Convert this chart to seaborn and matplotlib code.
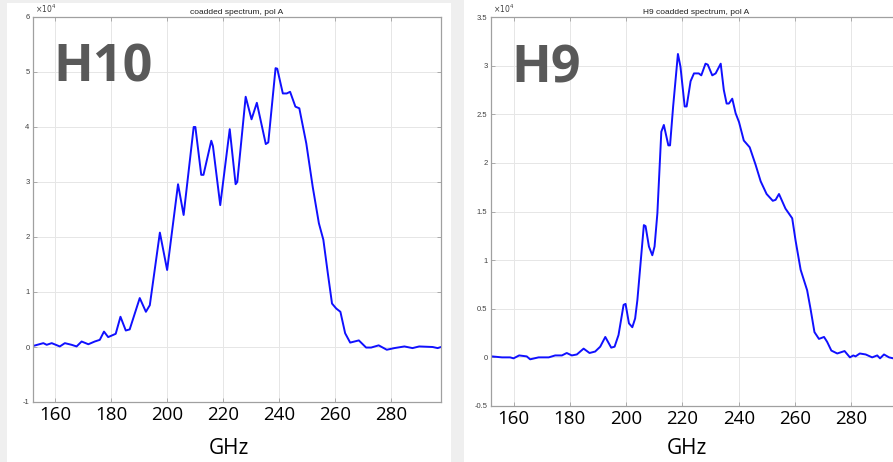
import numpy as np
import matplotlib
matplotlib.use("Agg")
import matplotlib.pyplot as plt
from matplotlib.patches import Rectangle
from matplotlib.ticker import FormatStrFormatter
import seaborn as sns

# H10 coadded spectrum, pol A (amplitude in units of 1e4)
h10_ghz = [152.1, 155.7, 156.9, 158.7, 161.6, 163.4, 165.8, 167.6, 169.4, 171.8,
           174.1, 175.9, 177.4, 178.9, 181.6, 183.3, 185.2, 186.6, 190.2, 192.4,
           193.8, 197.4, 200.0, 203.9, 205.9, 209.5, 210.1, 212.2, 213.0, 215.8,
           216.4, 219.0, 222.4, 224.5, 225.1, 228.1, 230.2, 232.1, 235.3, 236.2,
           238.8, 239.4, 241.4, 242.8, 244.0, 245.9, 247.3, 249.8, 252.1, 254.3,
           255.9, 257.5, 259.0, 260.5, 262.0, 263.7, 265.5, 268.6, 271.2, 273.0,
           275.7, 278.6, 281.3, 284.9, 287.8, 290.2, 295.0, 296.8, 298.0]
h10_val = [0.02, 0.07, 0.04, 0.07, 0.01, 0.07, 0.04, 0.01, 0.10, 0.05,
           0.10, 0.13, 0.28, 0.18, 0.24, 0.55, 0.30, 0.32, 0.89, 0.64,
           0.76, 2.08, 1.40, 2.96, 2.40, 4.00, 4.00, 3.13, 3.13, 3.75,
           3.65, 2.58, 3.96, 2.96, 3.00, 4.55, 4.14, 4.44, 3.69, 3.72,
           5.07, 5.06, 4.61, 4.61, 4.64, 4.37, 4.34, 3.70, 2.91, 2.25,
           1.95, 1.34, 0.79, 0.70, 0.64, 0.25, 0.08, 0.12, -0.01, -0.01,
           0.03, -0.05, -0.02, 0.01, -0.02, 0.01, 0.00, -0.02, 0.00]

# H9 coadded spectrum, pol A (amplitude in units of 1e4)
h9_ghz = [152.3, 155.9, 158.8, 160.0, 162.0, 164.7, 165.9, 168.9, 172.5, 174.8,
          177.2, 178.9, 180.7, 182.5, 184.9, 187.0, 189.0, 190.8, 192.6, 194.7,
          195.9, 197.3, 199.1, 199.8, 201.0, 202.2, 203.2, 204.0, 206.3, 206.9,
          208.1, 209.3, 210.1, 211.1, 212.5, 213.4, 215.0, 215.6, 216.7, 218.4,
          219.3, 220.8, 221.5, 222.9, 224.1, 225.8, 226.7, 228.2, 229.0, 230.6,
          231.8, 233.6, 234.7, 235.7, 236.5, 237.7, 238.9, 240.1, 241.8, 243.9,
          246.0, 247.8, 249.9, 252.1, 253.1, 254.3, 256.6, 259.0, 260.2, 262.0,
          264.3, 265.5, 266.9, 268.5, 270.3, 271.4, 272.9, 275.0, 277.6, 279.5,
          280.7, 281.5, 283.0, 285.1, 287.4, 289.2, 290.2, 291.6, 293.4, 294.9,
          297.0]
h9_val = [0.01, 0.00, 0.00, -0.01, 0.02, 0.01, -0.02, 0.00, 0.00, 0.02,
          0.02, 0.045, 0.02, 0.03, 0.09, 0.045, 0.06, 0.11, 0.21, 0.10,
          0.11, 0.23, 0.54, 0.55, 0.35, 0.31, 0.40, 0.59, 1.36, 1.35,
          1.14, 1.05, 1.14, 1.48, 2.32, 2.39, 2.18, 2.18, 2.58, 3.12,
          2.99, 2.58, 2.58, 2.84, 2.92, 2.92, 2.90, 3.02, 3.01, 2.90,
          2.92, 3.02, 2.75, 2.61, 2.61, 2.66, 2.51, 2.42, 2.23, 2.16,
          1.98, 1.81, 1.68, 1.61, 1.62, 1.68, 1.53, 1.43, 1.20, 0.90,
          0.69, 0.50, 0.26, 0.19, 0.21, 0.16, 0.07, 0.04, 0.065, 0.00,
          0.02, 0.01, 0.04, 0.03, 0.00, 0.02, -0.01, 0.03, 0.00, -0.01,
          0.00]

freq_ticks = [160, 180, 200, 220, 240, 260, 280]
h10_yticks = [-1, 0, 1, 2, 3, 4, 5, 6]
h9_yticks = [-0.5, 0, 0.5, 1, 1.5, 2, 2.5, 3, 3.5]

sns.set_theme(style="white")
plt.rcParams["font.family"] = ["Liberation Sans", "DejaVu Sans"]

W, H = 893, 462
fig = plt.figure(figsize=(W / 100, H / 100), dpi=100)
fig.patch.set_facecolor("#efefef")

# white slide panels behind each plot
for x0, x1, y0 in [(7, 451, 3), (464, 893, 0)]:
    fig.add_artist(Rectangle((x0 / W, 0), (x1 - x0) / W, (H - y0) / H,
                             transform=fig.transFigure, facecolor="white",
                             edgecolor="none", zorder=-5))


def px_axes(left, top, right, bottom):
    return fig.add_axes([left / W, 1 - bottom / H, (right - left) / W, (bottom - top) / H])


def draw_panel(ax, ghz, val, ylim, yticks, title, tag, xlab_x, xlab_y):
    sns.lineplot(x=ghz, y=val, ax=ax, color="#1010ff", lw=1.4,
                 estimator=None, sort=False)
    ax.set_facecolor("white")
    ax.set_xlim(152, 298)
    ax.set_ylim(*ylim)
    ax.set_xticks(freq_ticks)
    ax.set_yticks(yticks)
    ax.yaxis.set_major_formatter(FormatStrFormatter("%g"))
    ax.grid(True, color="#e6e6e6", lw=0.7)
    ax.set_axisbelow(True)
    for s in ax.spines.values():
        s.set_color("#a0a0a0")
        s.set_linewidth(0.9)
    ax.tick_params(direction="in", length=3, width=0.6, color="#a0a0a0",
                   top=True, right=True, bottom=True, left=True)
    ax.tick_params(axis="x", labelsize=13.5, labelcolor="black", pad=3)
    ax.tick_params(axis="y", labelsize=5.5, labelcolor="#404040", pad=2.5)
    for lab in ax.get_xticklabels():
        lab.set_fontfamily("Open Sans")
    ax.set_xlabel("GHz", fontsize=15, family="Open Sans", color="black")
    ax.xaxis.label.set_va("center")
    ax.xaxis.set_label_coords(xlab_x, xlab_y)
    ax.set_ylabel("")
    ax.set_title(title, fontsize=6, pad=2.5, color="#202020")
    ax.text(0.004, 1.004, r"$\times10^4$", transform=ax.transAxes,
            fontsize=5.5, color="#404040", va="bottom", ha="left")
    ax.text(0.05, 0.832, tag, transform=ax.transAxes, fontsize=37.5,
            fontweight="bold", family="Open Sans", color="#595959",
            va="baseline", ha="left")


ax1 = px_axes(33, 17, 441, 402)
draw_panel(ax1, h10_ghz, h10_val, (-1, 6), h10_yticks,
           "coadded spectrum, pol A", "H10", 0.48, (402 - 448) / 385)

ax2 = px_axes(491, 17, 902, 406)
draw_panel(ax2, h9_ghz, h9_val, (-0.5, 3.5), h9_yticks,
           "H9 coadded spectrum, pol A", "H9", 0.477, (406 - 448) / 389)

fig.savefig("out.png", dpi=100, facecolor=fig.get_facecolor())
